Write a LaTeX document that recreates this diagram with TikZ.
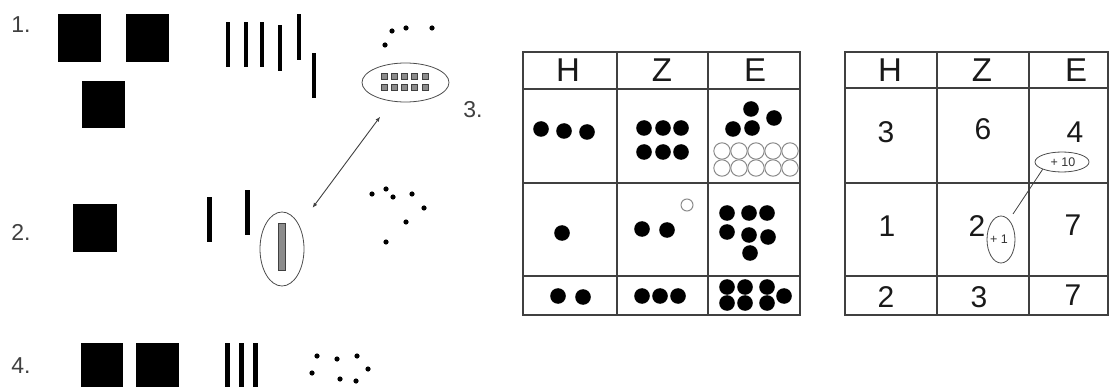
\documentclass[tikz,border=0pt]{standalone}
\usepackage{fontspec}
\setmainfont{Liberation Sans}
\usetikzlibrary{shapes.geometric,arrows.meta}
\begin{document}
\begin{tikzpicture}[x=1pt,y=-1pt,
  blk/.style={fill=black},
  gsq/.style={fill=black!45,draw=black!75,line width=0.6pt},
  wdot/.style={draw=black!45,line width=1pt,fill=white},
  gridline/.style={draw=black!75,line width=1.6pt},
  lbl/.style={inner sep=0pt,text=black!75,font=\fontsize{23}{23}\selectfont},
  hdr/.style={inner sep=0pt,text=black!90,font=\fontsize{33}{33}\selectfont},
  num/.style={inner sep=0pt,text=black!90,font=\fontsize{30}{30}\selectfont},
  oval/.style={ellipse,draw=black!70,line width=0.8pt,inner sep=0pt},
  smalltxt/.style={inner sep=0pt,text=black!80,font=\fontsize{12.5}{12.5}\selectfont},
  conn/.style={draw=black!75,line width=0.9pt},
]
\useasboundingbox (0,0) rectangle (1110,387);

% ---------- row labels ----------
\node[lbl] (l1) at (21,25) {1.};
\node[lbl] (l2) at (21,232) {2.};
\node[lbl] (l3) at (473,110) {3.};
\node[lbl] (l4) at (21,366) {4.};

% ---------- row 1 ----------
\fill[blk] (58,14) rectangle (101,62);
\fill[blk] (126,14) rectangle (169,62);
\fill[blk] (82,81) rectangle (125,128);
\foreach \x/\a/\b in {228/22/67,246/22/67,262/22/67,280/25/71,299/14/60,314/53/98}
  \fill[blk] (\x-2.3,\a) rectangle (\x+2.3,\b);
\foreach \x/\y in {392/31,406/28,432/28,385/45}
  \fill[blk] (\x,\y) circle (2.6pt);
\node[oval,minimum width=87pt,minimum height=39pt] (e3) at (405.5,82.5) {};
\foreach \x in {384,394,404,414,425}
  \foreach \y in {76,87}
    \filldraw[gsq] (\x-3,\y-3) rectangle (\x+3,\y+3);

% ---------- row 2 ----------
\fill[blk] (73,204) rectangle (117,252);
\fill[blk] (207,197) rectangle (212,242);
\fill[blk] (245,190) rectangle (250,235);
\node[oval,minimum width=44pt,minimum height=74pt] (e2) at (282,249) {};
\filldraw[gsq] (278,223) rectangle (285,270);
\foreach \x/\y in {372/194,386/189,393/197,412/194,424/208,406/222,386/242}
  \fill[blk] (\x,\y) circle (2.6pt);
\draw[conn,{Latex[length=5pt,width=4pt]}-{Latex[length=5pt,width=4pt]},
      shorten <=22pt,shorten >=19pt] (e2) -- (e3);

% ---------- row 4 ----------
\fill[blk] (81,343) rectangle (123,387);
\fill[blk] (136,343) rectangle (179,387);
\foreach \x in {227.5,241.5,255.5}
  \fill[blk] (\x-2.3,343) rectangle (\x+2.3,387);
\foreach \x/\y in {317/356,337/359,357/356,312/373,368/369,340/379,356/381}
  \fill[blk] (\x,\y) circle (2.6pt);

% ---------- table 1 ----------
\draw[gridline] (523,52) rectangle (800,315);
\draw[gridline] (617,52) -- (617,315);
\draw[gridline] (708,52) -- (708,315);
\draw[gridline] (523,89) -- (800,89);
\draw[gridline] (523,183) -- (800,183);
\draw[gridline] (523,276) -- (800,276);
\node[hdr] (t1h) at (568,70) {H};
\node[hdr] (t1z) at (662,70) {Z};
\node[hdr] (t1e) at (755,70) {E};
% row 1
\foreach \x/\y in {541/129,564/131,587/132,
                   644/128,663/128,681/128,644/152,663/152,681/152,
                   751/109,774/118,733/129,752/128}
  \fill[blk] (\x,\y) circle (7.8pt);
\foreach \x in {722,739,756,773,790}
  \foreach \y in {151,168}
    \filldraw[wdot] (\x,\y) circle (8.2pt);
% row 2
\foreach \x/\y in {562/233,642/229,667/230,
                   727/213,749/213,767/213,727/232,749/235,768/237,750/253}
  \fill[blk] (\x,\y) circle (7.8pt);
\filldraw[wdot] (687,205) circle (6pt);
% row 3
\foreach \x/\y in {558/296,583/297,642/296,660/296,678/296,
                   727/287,745/287,767/287,727/303,745/303,767/303,784/296}
  \fill[blk] (\x,\y) circle (7.8pt);

% ---------- table 2 ----------
\draw[gridline] (845,52) rectangle (1108,315);
\draw[gridline] (937,52) -- (937,315);
\draw[gridline] (1029,52) -- (1029,315);
\draw[gridline] (845,88) -- (1108,88);
\draw[gridline] (845,183) -- (1108,183);
\draw[gridline] (845,276) -- (1108,276);
\node[hdr] (t2h) at (890,70) {H};
\node[hdr] (t2z) at (982,70) {Z};
\node[hdr] (t2e) at (1076,70) {E};
\node[num] (n11) at (886,132) {3};
\node[num] (n12) at (983,129) {6};
\node[num] (n13) at (1075,132) {4};
\node[num] (n21) at (887,226) {1};
\node[num] (n22) at (977,226) {2};
\node[num] (n23) at (1073,225) {7};
\node[num] (n31) at (886,297) {2};
\node[num] (n32) at (979,297) {3};
\node[num] (n33) at (1073,295) {7};
\node[oval,minimum width=54pt,minimum height=20pt] (p10) at (1062,162) {};
\node[smalltxt] (p10t) at (1063,162) {+ 10};
\node[oval,minimum width=28pt,minimum height=47pt] (p1) at (1001,239.5) {};
\node[smalltxt] (p1t) at (999,239) {+ 1};
\coordinate (lend) at (1013,214);
\draw[draw=black!75,line width=0.8pt] (p10.south west) -- (lend);
\end{tikzpicture}
\end{document}
